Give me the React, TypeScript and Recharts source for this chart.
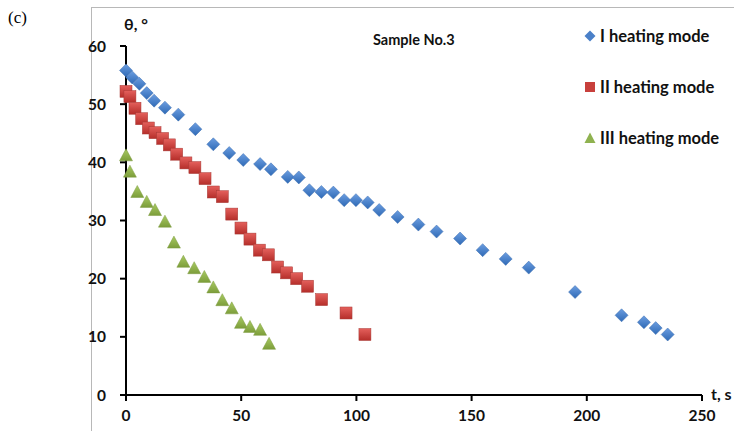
import React from "react";
import { ScatterChart, Scatter, XAxis, YAxis } from "recharts";

const blueT = [0, 2.7, 5.8, 9, 12.2, 16.9, 22.7, 30.1, 37.9, 44.8, 50.9, 58.2, 62.9, 70.2, 75, 79.6, 84.8, 90, 94.7, 99.8, 104.9, 109.9, 117.9, 126.9, 134.8, 145, 154.8, 164.8, 174.8, 194.9, 215.1, 224.8, 229.9, 235.1];
const blueTheta = [55.8, 54.6, 53.5, 51.9, 50.6, 49.4, 48.2, 45.7, 43.1, 41.6, 40.4, 39.7, 38.8, 37.5, 37.4, 35.2, 34.9, 34.8, 33.5, 33.5, 33.1, 31.8, 30.6, 29.3, 28.1, 26.9, 24.9, 23.4, 21.9, 17.7, 13.7, 12.5, 11.5, 10.4];

const redT = [0, 1.7, 3.9, 6.8, 9.7, 12.6, 15.9, 18.8, 22, 26, 29.9, 34.3, 37.9, 41.8, 45.9, 49.9, 53.8, 57.9, 61.8, 65.8, 69.7, 74.1, 78.8, 84.9, 95.5, 103.7];
const redTheta = [52.2, 51.3, 49.3, 47.5, 45.9, 45.1, 44.1, 43, 41.4, 39.9, 39.1, 37.2, 34.9, 34.1, 31.1, 28.7, 26.8, 24.9, 24.1, 22, 21, 20, 18.7, 16.4, 14.1, 10.4];

const greenT = [0, 1.7, 4.9, 9, 12.6, 16.9, 20.8, 24.9, 29.6, 34, 37.9, 41.8, 45.9, 49.9, 53.8, 58.2, 62.1];
const greenTheta = [41.2, 38.4, 34.9, 33.2, 31.8, 29.8, 26.2, 22.9, 21.8, 20.3, 18.5, 16.3, 14.9, 12.4, 11.7, 11.2, 8.8];

const xTicks = [0, 50, 100, 150, 200, 250];
const yTicks = [0, 10, 20, 30, 40, 50, 60];

const seriesNames = ["I heating mode", "II heating mode", "III heating mode"];
const chartTitle = "Sample No.3";
const panelLabel = "(c)";
const xTitle = "t, s";
const yTitle = "θ, °";

const toPts = (t: number[], v: number[]) => t.map((x, i) => ({ t: x, v: v[i] }));
const blueData = toPts(blueT, blueTheta);
const redData = toPts(redT, redTheta);
const greenData = toPts(greenT, greenTheta);

const FONT = "Lato, 'Open Sans', sans-serif";

const Diamond = (p: any) => {
  const { cx, cy } = p;
  const r = 6.5;
  return (
    <polygon
      points={`${cx},${cy - r} ${cx + r},${cy} ${cx},${cy + r} ${cx - r},${cy}`}
      fill="url(#gBlue)"
      stroke="#3c6fb0"
      strokeWidth={0.5}
    />
  );
};
const Square = (p: any) => {
  const { cx, cy } = p;
  return <rect x={cx - 6} y={cy - 6} width={12} height={12} fill="url(#gRed)" stroke="#a83a36" strokeWidth={0.5} />;
};
const Triangle = (p: any) => {
  const { cx, cy } = p;
  return (
    <polygon
      points={`${cx},${cy - 6.5} ${cx + 6.5},${cy + 5.5} ${cx - 6.5},${cy + 5.5}`}
      fill="url(#gGreen)"
      stroke="#7d9a3f"
      strokeWidth={0.5}
    />
  );
};

const markerIcon = (i: number) => {
  if (i === 0)
    return (
      <svg width={12} height={12} style={{ display: "block" }}>
        <polygon points="6,0.5 11.5,6 6,11.5 0.5,6" fill="#4a80c8" />
      </svg>
    );
  if (i === 1)
    return (
      <svg width={12} height={12} style={{ display: "block" }}>
        <rect x={1} y={1} width={10} height={10} fill="#c8403c" />
      </svg>
    );
  return (
    <svg width={12} height={12} style={{ display: "block" }}>
      <polygon points="6,0.5 11.5,11 0.5,11" fill="#8fb24f" />
    </svg>
  );
};

export default function App() {
  return (
    <div style={{ position: "absolute", left: 0, top: 0, width: 734, height: 431, background: "#fff", overflow: "hidden" }}>
      <div
        style={{
          position: "absolute",
          left: 91,
          top: 7,
          width: 700,
          height: 500,
          borderLeft: "1px solid #b8b8b8",
          borderTop: "1px solid #b8b8b8",
        }}
      />
      <div style={{ position: "absolute", left: 8, top: 8, fontFamily: "'Liberation Serif', 'Times New Roman', serif", fontSize: 17 }}>
        {panelLabel}
      </div>
      <div style={{ position: "absolute", left: 584, top: 10, fontFamily: FONT, fontWeight: 700, fontSize: 16.5, color: "#111" }}>
        {seriesNames.map((n, i) => (
          <div key={n} style={{ display: "flex", alignItems: "center", height: 51 }}>
            <span style={{ display: "inline-block", width: 12, height: 12, marginRight: 4 }}>{markerIcon(i)}</span>
            <span>{n}</span>
          </div>
        ))}
      </div>
      <div style={{ position: "absolute", left: 0, top: 0 }}>
        <ScatterChart width={734} height={431} margin={{ top: 46, right: 32, left: 60, bottom: 6 }}>
          <defs>
            <linearGradient id="gBlue" x1="0" y1="0" x2="0" y2="1">
              <stop offset="0%" stopColor="#6b9de0" />
              <stop offset="100%" stopColor="#2f6ab6" />
            </linearGradient>
            <linearGradient id="gRed" x1="0" y1="0" x2="0" y2="1">
              <stop offset="0%" stopColor="#e4605c" />
              <stop offset="100%" stopColor="#b52e2a" />
            </linearGradient>
            <linearGradient id="gGreen" x1="0" y1="0" x2="0" y2="1">
              <stop offset="0%" stopColor="#a8ca62" />
              <stop offset="100%" stopColor="#7c9d3a" />
            </linearGradient>
          </defs>
          <XAxis
            type="number"
            dataKey="t"
            domain={[0, 250]}
            ticks={xTicks}
            height={30}
            stroke="#000"
            strokeWidth={2}
            axisLine={true}
            tickLine={true}
            tickSize={6}
            tickMargin={9}
            tick={{ fontFamily: FONT, fontWeight: 700, fontSize: 15.5, fill: "#111" }}
            interval={0}
          />
          <YAxis
            type="number"
            dataKey="v"
            domain={[0, 60]}
            ticks={yTicks}
            width={66}
            stroke="#000"
            strokeWidth={2}
            axisLine={true}
            tickLine={true}
            tickSize={6}
            tickMargin={14}
            tick={{ fontFamily: FONT, fontWeight: 700, fontSize: 15.5, fill: "#111" }}
            interval={0}
          />
          <Scatter name={seriesNames[0]} data={blueData} shape={Diamond} isAnimationActive={false} />
          <Scatter name={seriesNames[1]} data={redData} shape={Square} isAnimationActive={false} />
          <Scatter name={seriesNames[2]} data={greenData} shape={Triangle} isAnimationActive={false} />
          <text x={373} y={45} fontFamily={FONT} fontWeight={700} fontSize={14.5} fill="#111">
            {chartTitle}
          </text>
          <text x={124} y={30} fontFamily={FONT} fontWeight={700} fontSize={16} fill="#111">
            {yTitle}
          </text>
          <text x={711} y={400} fontFamily={FONT} fontWeight={700} fontSize={16} fill="#111">
            {xTitle}
          </text>
        </ScatterChart>
      </div>
    </div>
  );
}
